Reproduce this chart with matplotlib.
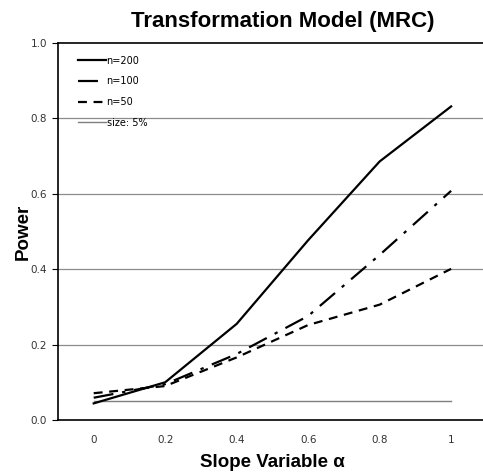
import numpy as np
import matplotlib.pyplot as plt

# data
alpha = ['0', '0.2', '0.4', '0.6', '0.8', '1']
n200 = [0.044, 0.100, 0.255, 0.477, 0.686, 0.832]
n100 = [0.059, 0.095, 0.175, 0.276, 0.438, 0.608]
n50 = [0.071, 0.090, 0.166, 0.252, 0.306, 0.401]
size5 = [0.05, 0.05, 0.05, 0.05, 0.05, 0.05]

x = np.arange(len(alpha))

fig = plt.figure(figsize=(4.83, 4.74), dpi=100)
ax = fig.add_axes([0.120, 0.114, 0.888, 0.795])

# horizontal gridlines
for g in [0.2, 0.4, 0.6, 0.8]:
    ax.axhline(g, color='#8c8c8c', lw=0.9, zorder=1)

ax.plot(x, n200, color='black', lw=1.6, label='n=200', zorder=3)
ax.plot(x, n100, color='black', lw=1.6, dashes=(9, 4, 1.5, 4), label='n=100', zorder=3)
ax.plot(x, n50, color='black', lw=1.6, dashes=(4, 3), label='n=50', zorder=3)
ax.plot(x, size5, color='#7f7f7f', lw=1.0, label='size: 5%', zorder=2)

ax.set_xlim(-0.5, 5.5)
ax.set_ylim(0, 1.0)
ax.set_xticks(x)
ax.set_xticklabels(alpha)
ax.set_yticks([0, 0.2, 0.4, 0.6, 0.8, 1.0])
ax.set_yticklabels(['0.0', '0.2', '0.4', '0.6', '0.8', '1.0'])
ax.tick_params(axis='x', length=0, pad=11, labelsize=7.5, colors='#333333')
ax.tick_params(axis='y', length=4, width=0.8, pad=4, labelsize=7.5, colors='#333333')
ax.tick_params(axis='y', color='black')

ax.spines['right'].set_visible(False)
ax.spines['top'].set_linewidth(1.2)
ax.spines['left'].set_linewidth(1.2)
ax.spines['bottom'].set_linewidth(1.2)

fig.text(0.586, 0.954, 'Transformation Model (MRC)', fontsize=16, fontweight='bold',
         family='Liberation Sans', ha='center', va='center')
ax.set_xlabel('Slope Variable α', fontsize=13.5, fontweight='bold',
              family='Liberation Sans', labelpad=6)
ax.set_ylabel('Power', fontsize=13.5, fontweight='bold',
              family='Liberation Sans', labelpad=-1)

ax.legend(loc='upper left', frameon=False, fontsize=7, handlelength=2.8,
          handletextpad=0.1, labelspacing=1.1, borderaxespad=0.9,
          bbox_to_anchor=(0.018, 1.0))

fig.savefig('out.png', dpi=100)
